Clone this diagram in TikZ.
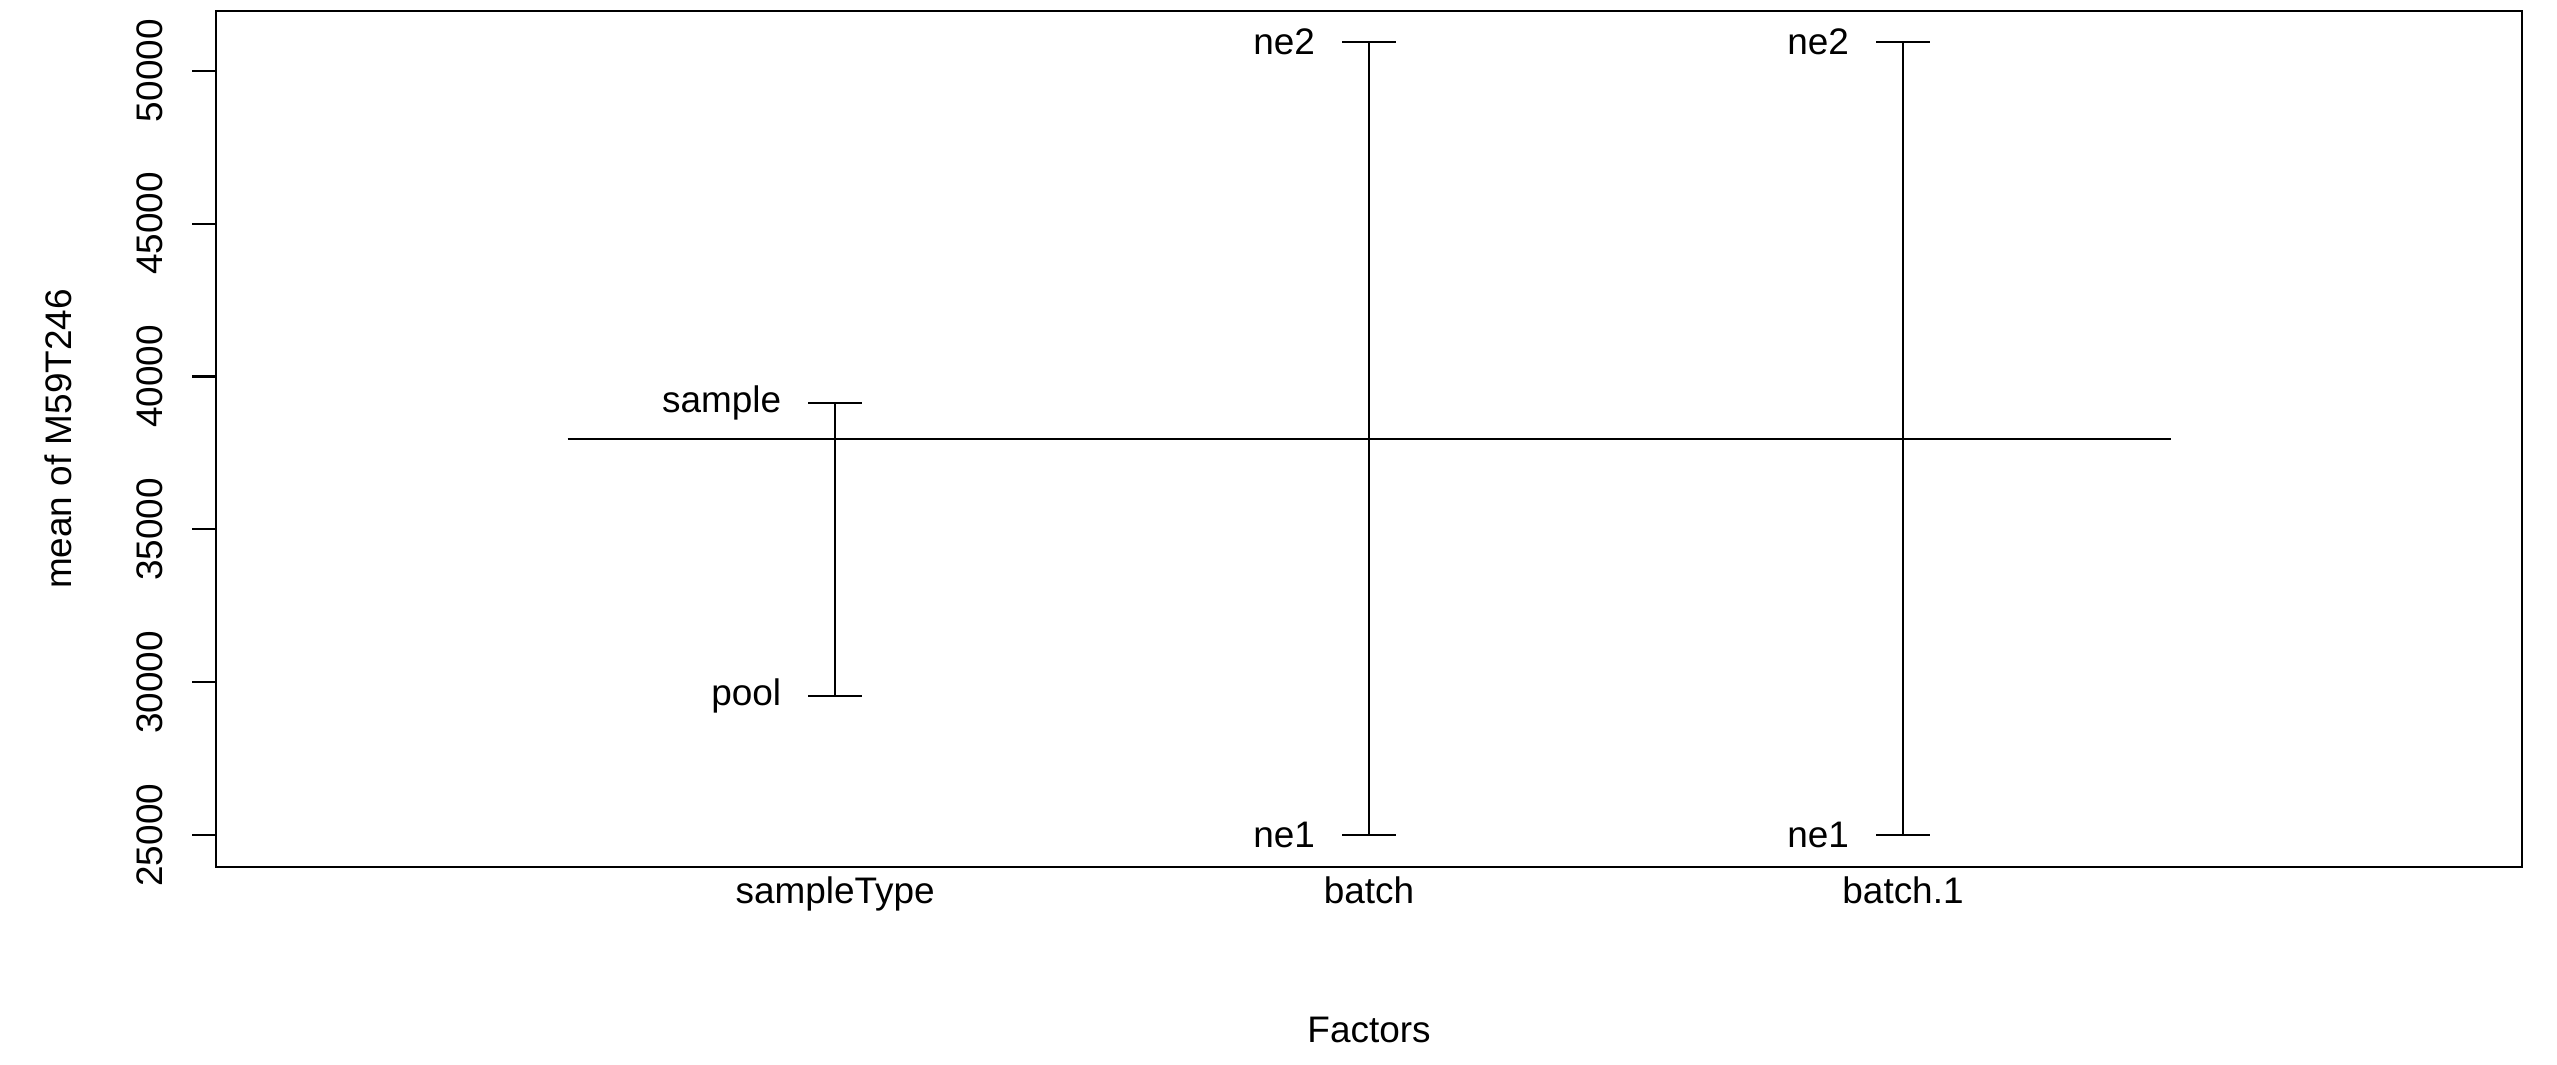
\documentclass[tikz,border=0pt]{standalone}
\usepackage{fontspec}
\setmainfont{Liberation Sans}
\begin{document}
\begin{tikzpicture}[x=0.01cm,y=-0.01cm, line width=0.6pt,
  every node/.style={inner sep=0pt, font=\fontsize{10.5}{12.6}\selectfont},
  lvl/.style={anchor=east},
  ticklab/.style={rotate=90, anchor=base},
  axlab/.style={anchor=base},
  bar/.style={line width=0.55pt}]
\useasboundingbox (0,0) rectangle (2557,1065);
% frame
\coordinate (fTL) at (216,11);
\coordinate (fBR) at (2522,867);
\draw (fTL) rectangle (fBR);
% y axis ticks and labels
\foreach \v/\y in {25000/835.2,30000/682.3,35000/529.4,40000/376.5,45000/223.6,50000/70.7}{
  \coordinate (t\v a) at (216,\y);
  \coordinate (t\v b) at (192,\y);
  \draw (t\v a) -- (t\v b);
  \node[ticklab] (tl\v) at (162,\y) {\v};
}
\node[ticklab] (ylab) at (71.7,439) {mean of M59T246};
% mean line
\coordinate (ml) at (567.5,438.7);
\coordinate (mr) at (2170.7,438.7);
\draw (ml) -- (mr);
% factors
\foreach \n/\x/\hi/\lo/\hl/\ll in {f1/835.2/403.3/696/sample/pool, f2/1369/42.3/835/ne2/ne1, f3/1903/42.3/835/ne2/ne1}{
  \coordinate (\n hi) at (\x,\hi);
  \coordinate (\n lo) at (\x,\lo);
  \coordinate (\n hiL) at (\x-27,\hi);
  \coordinate (\n hiR) at (\x+27,\hi);
  \coordinate (\n loL) at (\x-27,\lo);
  \coordinate (\n loR) at (\x+27,\lo);
  \draw[bar] (\n hi) -- (\n lo);
  \draw[bar] (\n hiL) -- (\n hiR);
  \draw[bar] (\n loL) -- (\n loR);
  \node[lvl] (\n hl) at (\x-53,\hi) {\hl};
  \node[lvl] (\n ll) at (\x-53,\lo) {\ll};
}
% x labels
\node[axlab] (x1) at (835.2,904) {sampleType};
\node[axlab] (x2) at (1369,904) {batch};
\node[axlab] (x3) at (1903,904) {batch.1};
\node[axlab] (xlab) at (1369,1042.7) {Factors};
\end{tikzpicture}
\end{document}
